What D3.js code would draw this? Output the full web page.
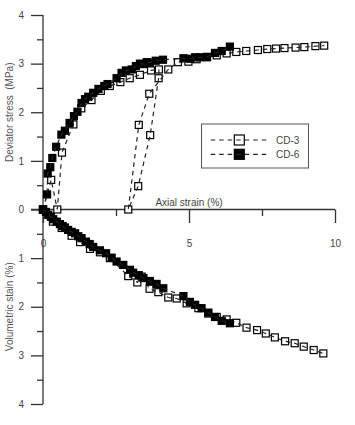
<!DOCTYPE html>
<html><head><meta charset="utf-8">
<script src="https://cdn.jsdelivr.net/npm/d3@7"></script>
<style>body{margin:0;background:#fff}svg{display:block}text{font-family:"Liberation Sans",Arial,sans-serif}</style>
</head><body><svg id="c" width="355" height="425"></svg>
<script>
// CD-3 deviator stress path (with unload/reload loops)
const cd3Strain = [0, 0.28, 0.49, 0.65, 1.04, 1.31, 1.66, 1.98, 2.29, 2.65, 2.97, 3.32, 3.70, 3.97, 3.96, 3.67, 3.26, 2.92, 3.28, 3.64, 4.29, 4.62, 4.98, 5.26, 5.61, 5.95, 6.29, 6.62, 6.96, 7.36, 7.68, 7.98, 8.27, 8.65, 8.95, 9.33, 9.63];
const cd3Stress = [0, 0.61, 0, 1.17, 1.75, 2.08, 2.25, 2.44, 2.54, 2.62, 2.70, 2.77, 2.86, 2.88, 2.70, 1.53, 0.48, 0, 1.74, 2.38, 2.88, 3.03, 3.04, 3.09, 3.13, 3.17, 3.21, 3.24, 3.26, 3.28, 3.30, 3.31, 3.32, 3.33, 3.34, 3.36, 3.37];
// CD-6 deviator stress
const cd6Strain = [0, 0.14, 0.16, 0.25, 0.32, 0.45, 0.63, 0.75, 0.91, 1.06, 1.18, 1.32, 1.44, 1.55, 1.72, 1.90, 2.10, 2.21, 2.52, 2.69, 2.84, 3.04, 3.18, 3.32, 3.44, 3.55, 3.66, 3.86, 4.11, 4.81, 5.05, 5.21, 5.38, 5.62, 5.89, 6.12, 6.40];
const cd6Stress = [0, 0.31, 0.74, 0.87, 1.06, 1.29, 1.54, 1.62, 1.78, 1.92, 2.01, 2.19, 2.27, 2.32, 2.40, 2.48, 2.54, 2.58, 2.70, 2.81, 2.86, 2.88, 2.95, 3.00, 2.99, 3.03, 3.02, 3.06, 3.08, 3.11, 3.10, 3.13, 3.13, 3.14, 3.22, 3.26, 3.35];
// Volumetric strain
const cd3VolStrain = [0, 0.34, 0.64, 0.98, 1.27, 1.61, 1.95, 2.29, 2.92, 3.23, 3.38, 3.65, 3.95, 4.29, 4.58, 4.92, 5.32, 5.66, 5.95, 6.29, 6.62, 6.97, 7.33, 7.63, 7.94, 8.29, 8.62, 8.93, 9.27, 9.60];
const cd3Vol = [0, 0.25, 0.38, 0.54, 0.67, 0.81, 0.88, 1.00, 1.37, 1.50, 1.38, 1.63, 1.70, 1.81, 1.83, 1.93, 2.03, 2.14, 2.21, 2.26, 2.33, 2.43, 2.48, 2.55, 2.63, 2.71, 2.75, 2.82, 2.89, 2.96];
const cd6VolStrain = [0, 0.10, 0.18, 0.27, 0.35, 0.47, 0.58, 0.67, 0.75, 0.86, 0.98, 1.10, 1.21, 1.32, 1.47, 1.60, 1.72, 1.95, 2.16, 2.35, 2.52, 2.75, 2.98, 3.09, 3.28, 3.44, 3.66, 3.89, 4.12, 4.81, 5.03, 5.21, 5.43, 5.66, 5.89, 6.12, 6.40];
const cd6Vol = [0, 0.05, 0.11, 0.15, 0.20, 0.25, 0.30, 0.34, 0.37, 0.42, 0.46, 0.49, 0.55, 0.59, 0.66, 0.71, 0.77, 0.84, 0.90, 0.99, 1.07, 1.14, 1.24, 1.30, 1.35, 1.41, 1.47, 1.53, 1.62, 1.78, 1.90, 1.96, 2.03, 2.12, 2.21, 2.29, 2.34];

const xTicks = [0, 5, 10], xMinor = [2.5, 7.5];
const yTicksUp = [0, 1, 2, 3, 4], yTicksLow = [1, 2, 3, 4], yMinor = [0.5, 1.5, 2.5, 3.5];
const seriesNames = ["CD-3", "CD-6"];

const svg = d3.select("#c");
const x = d3.scaleLinear().domain([0, 10]).range([43, 335]);
const yU = d3.scaleLinear().domain([0, 4]).range([209.5, 15]);
const yL = d3.scaleLinear().domain([0, 4]).range([209.5, 404]);
const axCol = "#333", txtCol = "#444";

function styleAxis(g) {
  g.select(".domain").remove();
  g.selectAll("line").attr("stroke", axCol).attr("stroke-width", 1.3);
  g.selectAll("text").attr("fill", txtCol).style("font-size", "10px");
}
// y axes
svg.append("g").attr("transform", "translate(43,0)")
  .call(d3.axisLeft(yU).tickValues(yTicksUp).tickSize(12).tickPadding(7).tickFormat(d3.format("d"))).call(styleAxis);
svg.append("g").attr("transform", "translate(43,0)")
  .call(d3.axisLeft(yU).tickValues(yMinor).tickSize(6).tickFormat("")).call(styleAxis);
svg.append("g").attr("transform", "translate(43,0)")
  .call(d3.axisLeft(yL).tickValues(yTicksLow).tickSize(12).tickPadding(7).tickFormat(d3.format("d"))).call(styleAxis);
svg.append("g").attr("transform", "translate(43,0)")
  .call(d3.axisLeft(yL).tickValues(yMinor).tickSize(6).tickFormat("")).call(styleAxis);
svg.append("line").attr("x1", 43).attr("x2", 43).attr("y1", yU(4)).attr("y2", yL(4)).attr("stroke", axCol).attr("stroke-width", 1.3);
// x axis
svg.append("g").attr("transform", "translate(0,209.5)")
  .call(d3.axisBottom(x).tickValues(xTicks).tickSize(13.5).tickPadding(17).tickFormat(d3.format("d"))).call(styleAxis);
svg.append("g").attr("transform", "translate(0,209.5)")
  .call(d3.axisBottom(x).tickValues(xMinor).tickSize(6.5).tickFormat("")).call(styleAxis);
svg.append("line").attr("x1", 31).attr("x2", x(10)).attr("y1", 209.5).attr("y2", 209.5).attr("stroke", axCol).attr("stroke-width", 1.3);

// titles
svg.append("text").attr("x", x(5)).attr("y", 206).attr("text-anchor", "middle").attr("fill", txtCol).style("font-size", "10px").text("Axial strain (%)");
svg.append("text").attr("transform", "translate(13," + yU(2) + ") rotate(-90)").attr("text-anchor", "middle").attr("fill", "#555").style("font-size", "10px").style("white-space", "pre").text("Deviator stress  (MPa)");
svg.append("text").attr("transform", "translate(13," + yL(2) + ") rotate(-90)").attr("text-anchor", "middle").attr("fill", "#555").style("font-size", "10px").text("Volumetric stain (%)");

const sz = 7;
function drawSeries(xs, ys, yScale, filled) {
  const pts = xs.map((d, i) => [x(d), yScale(ys[i])]);
  svg.append("g").selectAll("rect").data(pts).join("rect")
    .attr("x", d => d[0] - sz / 2).attr("y", d => d[1] - sz / 2).attr("width", sz).attr("height", sz)
    .attr("fill", filled ? "#000" : "#fff").attr("stroke", "#000").attr("stroke-width", 1.2);
  svg.append("path").attr("d", d3.line()(pts)).attr("fill", "none").attr("stroke", "#222")
    .attr("stroke-width", 1.2).attr("stroke-dasharray", "4.5,4");
}
drawSeries(cd3Strain, cd3Stress, yU, false);
drawSeries(cd3VolStrain, cd3Vol, yL, false);
drawSeries(cd6Strain, cd6Stress, yU, true);
drawSeries(cd6VolStrain, cd6Vol, yL, true);

// legend
const lg = svg.append("g");
lg.append("rect").attr("x", 201.5).attr("y", 124).attr("width", 107).attr("height", 44).attr("fill", "#fff").attr("stroke", "#555").attr("stroke-width", 1);
seriesNames.forEach((n, i) => {
  const yy = 140 + i * 14.3;
  lg.append("rect").attr("x", 239.3 - 5).attr("y", yy - 5).attr("width", 10).attr("height", 10)
    .attr("fill", i ? "#000" : "#fff").attr("stroke", "#000").attr("stroke-width", 1.2);
  lg.append("line").attr("x1", 210.7).attr("x2", 268.3).attr("y1", yy).attr("y2", yy)
    .attr("stroke", "#222").attr("stroke-width", 1.2).attr("stroke-dasharray", "4.5,4");
  lg.append("text").attr("x", 276).attr("y", yy + 3.6).attr("fill", txtCol).style("font-size", "10px").text(n);
});
</script></body></html>
